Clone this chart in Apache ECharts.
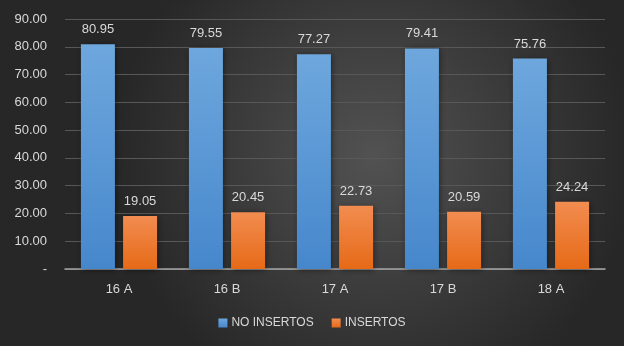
<!DOCTYPE html>
<html><head><meta charset="utf-8">
<script src="https://cdn.jsdelivr.net/npm/echarts@6/dist/echarts.min.js"></script>
<style>html,body{margin:0;padding:0;background:#3a3a3a}#c{width:624px;height:346px}</style>
</head><body><div id="c"></div>
<script>
const categories = ['16 A', '16 B', '17 A', '17 B', '18 A'];
const noInsertos = [80.95, 79.55, 77.27, 79.41, 75.76];
const insertos = [19.05, 20.45, 22.73, 20.59, 24.24];
const seriesNames = ['NO INSERTOS', 'INSERTOS'];

const chart = echarts.init(document.getElementById('c'));
const font = 'Liberation Sans';
const lbl = {show: true, position: 'top', distance: 8, color: '#d9d9d9', fontSize: 13, fontFamily: font, formatter: p => p.value.toFixed(2)};
chart.setOption({
  backgroundColor: {type: 'radial', x: 0.6, y: 0.45, r: 0.75, colorStops: [{offset: 0, color: '#525252'}, {offset: 1, color: '#272727'}]},
  grid: {left: 65, right: 19, top: 19, bottom: 77},
  legend: {bottom: 12, left: 'center', itemWidth: 9, itemHeight: 9, itemGap: 18, icon: 'rect',
    textStyle: {color: '#d9d9d9', fontSize: 12, fontFamily: font, padding: [0,0,0,-1]}, data: seriesNames},
  xAxis: {type: 'category', data: categories,
    axisLine: {lineStyle: {color: '#a6a6a6', width: 1.5}}, axisTick: {show: false},
    axisLabel: {color: '#d9d9d9', fontSize: 13, fontFamily: font, margin: 14}},
  yAxis: {type: 'value', min: 0, max: 90, interval: 10,
    axisLine: {show: false}, axisTick: {show: false},
    splitLine: {lineStyle: {color: '#585858', width: 1}},
    axisLabel: {color: '#d9d9d9', fontSize: 13, fontFamily: font, margin: 18,
      formatter: v => v === 0 ? '-' : v.toFixed(2)}},
  series: [
    {name: seriesNames[0], type: 'bar', data: noInsertos, barWidth: 34, barGap: '24%', label: lbl,
      itemStyle: {color: {type: 'linear', x: 0, y: 0, x2: 0, y2: 1, colorStops: [{offset: 0, color: '#6ea7dd'}, {offset: 1, color: '#4687cc'}]},
        shadowColor: 'rgba(0,0,0,0.45)', shadowBlur: 6, shadowOffsetX: 1, shadowOffsetY: 1}},
    {name: seriesNames[1], type: 'bar', data: insertos, barWidth: 34, label: lbl,
      itemStyle: {color: {type: 'linear', x: 0, y: 0, x2: 0, y2: 1, colorStops: [{offset: 0, color: '#f28c50'}, {offset: 1, color: '#e66a17'}]},
        shadowColor: 'rgba(0,0,0,0.45)', shadowBlur: 6, shadowOffsetX: 1, shadowOffsetY: 1}}
  ]
});
</script></body></html>
